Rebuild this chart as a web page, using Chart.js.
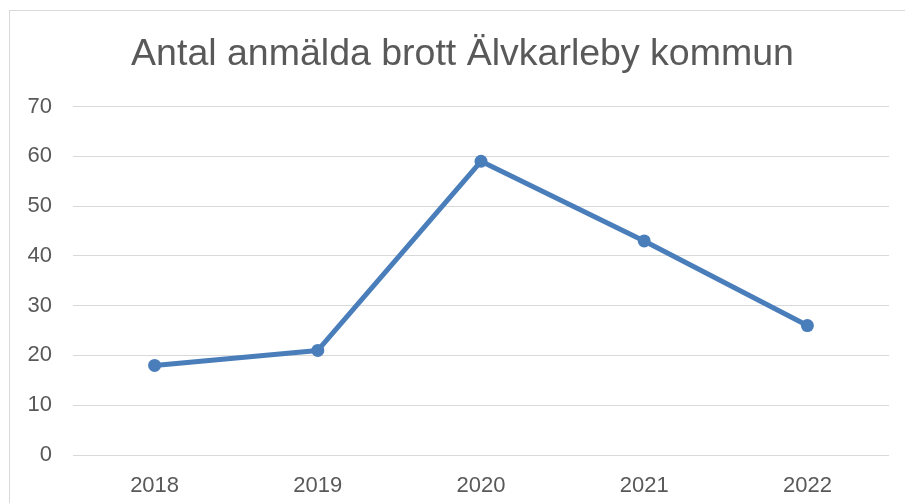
<!DOCTYPE html>
<html>
<head>
<meta charset="utf-8">
<script src="https://cdn.jsdelivr.net/npm/chart.js@4/dist/chart.umd.min.js"></script>
<style>
    html, body { margin: 0; padding: 0; background: #fff; overflow: hidden; }
    #frame {
        position: absolute; left: 9px; top: 10px;
        width: 910px; height: 520px;
        border: 1px solid #d9d9d9;
    }
    #chart { display: block; }
</style>
</head>
<body>
<div id="frame"><canvas id="chart" width="910" height="520"></canvas></div>
<script>
// Data
const years = ['2018', '2019', '2020', '2021', '2022'];
const brott = [18, 21, 59, 43, 26];
const chartTitle = 'Antal anmälda brott Älvkarleby kommun';

const textColor = '#595959';
const gridColor = '#d9d9d9';
const lineColor = '#4a7ebb';

Chart.defaults.font.family = '"Liberation Sans", Arial, sans-serif';

// title is centred on the whole frame, not on the padded box
const titleShift = {
    id: 'titleShift',
    afterLayout(chart) {
        const t = chart.titleBlock;
        if (t) { t.left += 13; t.right += 13; }
    }
};

const ctx = document.getElementById('chart').getContext('2d');
const chart = new Chart(ctx, {
    type: 'line',
    data: {
        labels: years,
        datasets: [{
            label: 'Antal',
            data: brott,
            borderColor: lineColor,
            backgroundColor: lineColor,
            borderWidth: 5,
            pointRadius: 6.5,
            pointHoverRadius: 6.5,
            pointBorderWidth: 0,
            borderJoinStyle: 'round',
            borderCapStyle: 'round',
            tension: 0,
            fill: false
        }]
    },
    options: {
        responsive: false,
        animation: false,
        layout: { padding: { left: 0, right: 31, top: 0, bottom: 0 } },
        plugins: {
            legend: { display: false },
            tooltip: { enabled: false },
            title: {
                display: true,
                text: chartTitle,
                color: textColor,
                font: { size: 37.5, weight: 'normal' },
                padding: { top: 21, bottom: 29.5 }
            }
        },
        scales: {
            x: {
                offset: true,
                grid: { display: false },
                border: { display: false },
                ticks: { color: textColor, font: { size: 22 }, padding: 10 },
                afterFit: (scale) => { scale.height = 76; }
            },
            y: {
                min: 0,
                max: 70,
                grid: { color: gridColor, lineWidth: 1, drawTicks: false },
                border: { display: false },
                ticks: { stepSize: 10, color: textColor, font: { size: 22 }, padding: 21 },
                afterFit: (scale) => { scale.width = 63; }
            }
        }
    },
    plugins: [titleShift]
});
</script>
</body>
</html>
